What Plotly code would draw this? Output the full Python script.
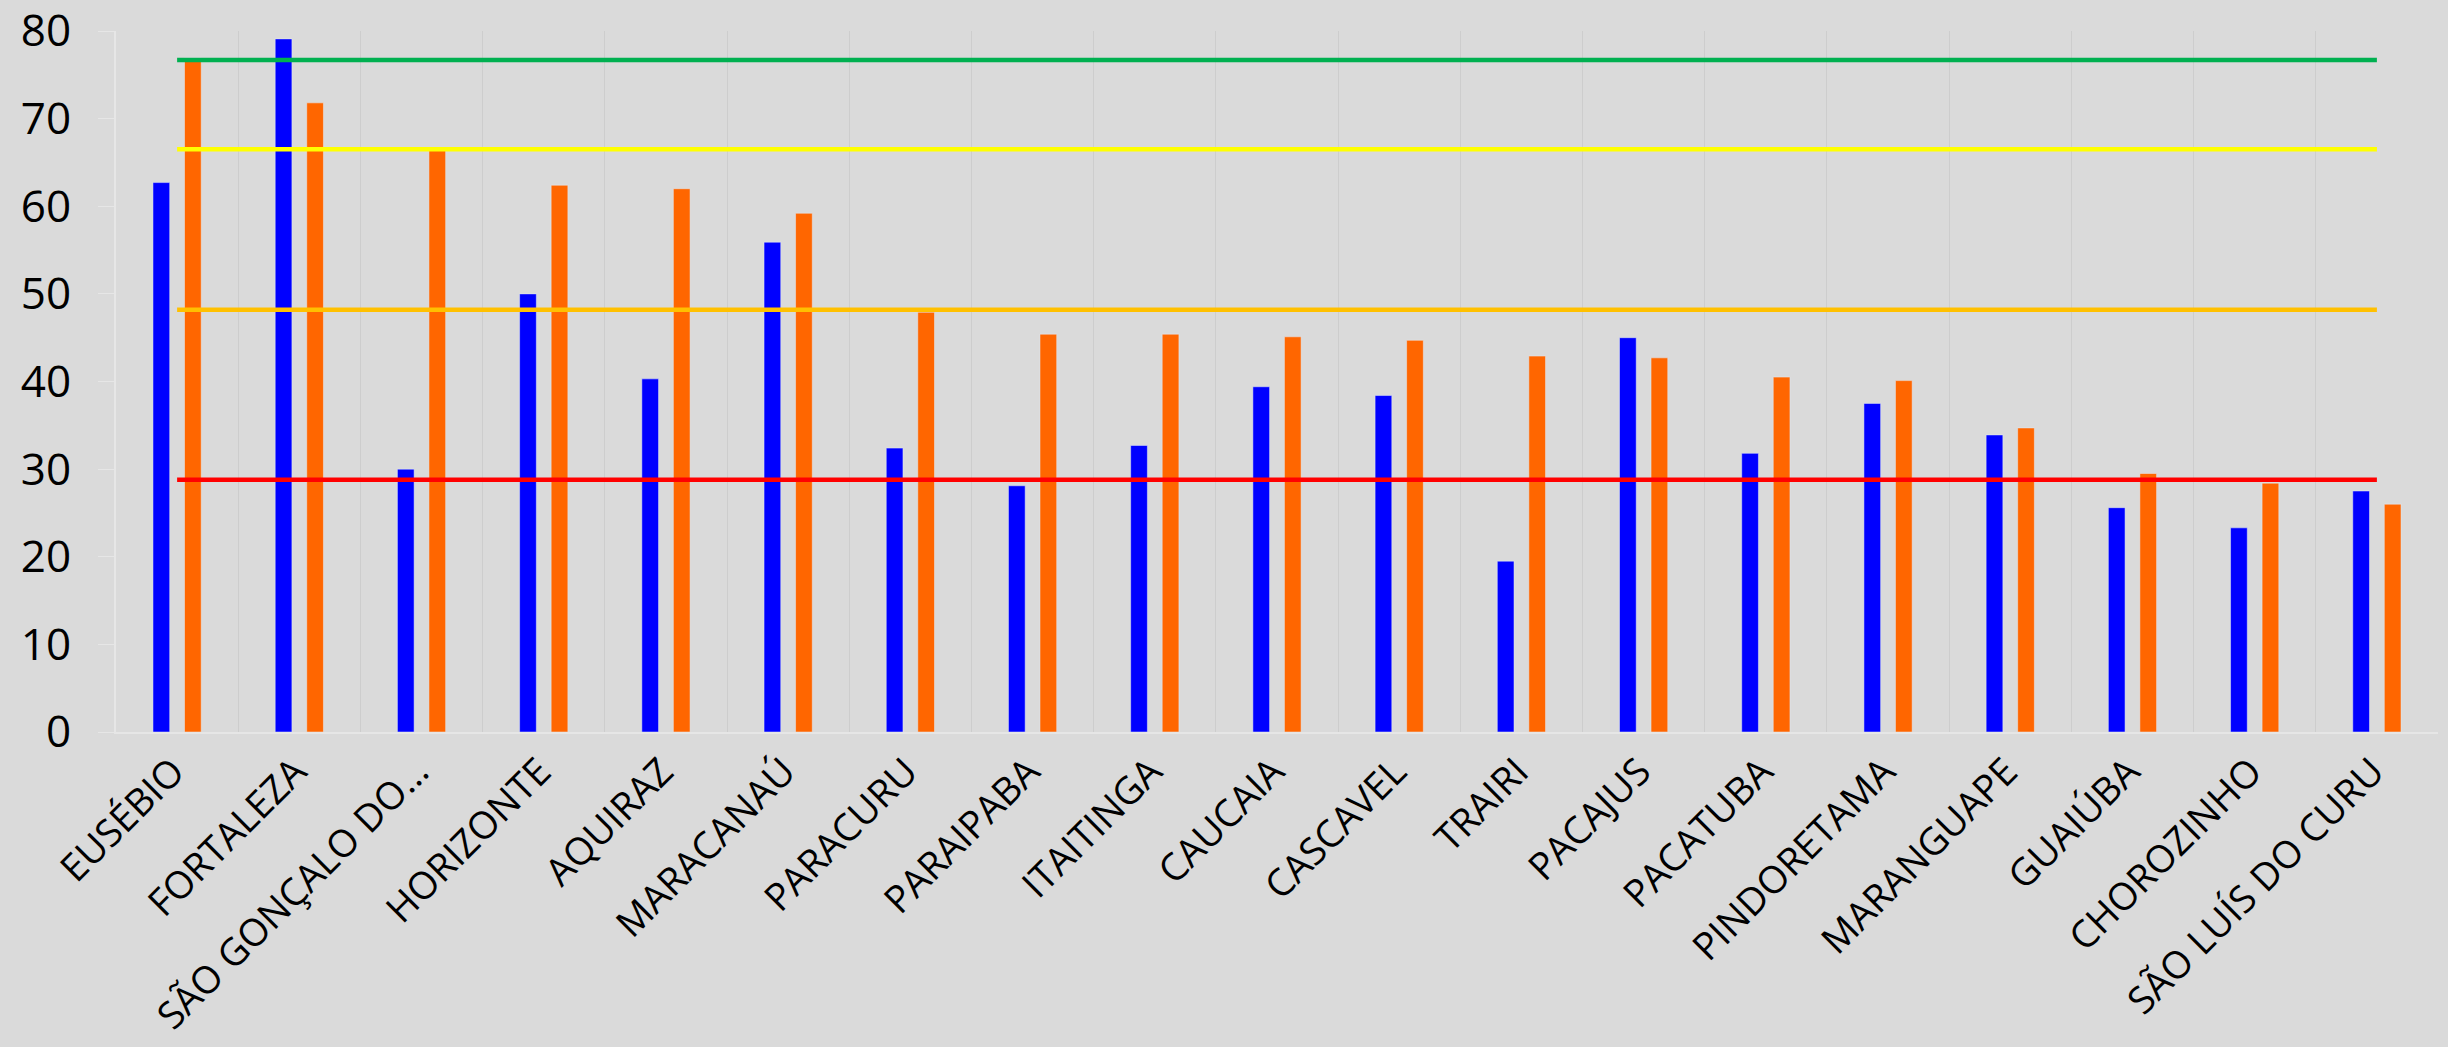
import plotly.graph_objects as go

municipios = [
    "EUSÉBIO", "FORTALEZA", "SÃO GONÇALO DO…", "HORIZONTE", "AQUIRAZ",
    "MARACANAÚ", "PARACURU", "PARAIPABA", "ITAITINGA", "CAUCAIA",
    "CASCAVEL", "TRAIRI", "PACAJUS", "PACATUBA", "PINDORETAMA",
    "MARANGUAPE", "GUAIÚBA", "CHOROZINHO", "SÃO LUÍS DO CURU",
]
serie_azul = [62.7, 79.1, 30.0, 50.0, 40.3, 55.9, 32.4, 28.1, 32.7, 39.4,
              38.4, 19.5, 45.0, 31.8, 37.5, 33.9, 25.6, 23.3, 27.5]
serie_laranja = [76.9, 71.8, 66.4, 62.4, 62.0, 59.2, 47.9, 45.4, 45.4, 45.1,
                 44.7, 42.9, 42.7, 40.5, 40.1, 34.7, 29.5, 28.4, 26.0]

# reference levels drawn as flat lines across all categories
nivel_verde = 76.7
nivel_amarelo = 66.5
nivel_ouro = 48.2
nivel_vermelho = 28.8

y_ticks = [0, 10, 20, 30, 40, 50, 60, 70, 80]

fig = go.Figure()
fig.add_trace(go.Bar(x=municipios, y=serie_azul, marker={"color": "#0000FF"}, name="azul"))
fig.add_trace(go.Bar(x=municipios, y=serie_laranja, marker={"color": "#FF6600"}, name="laranja"))

for valor, cor in [
    (nivel_verde, "#00B050"),
    (nivel_amarelo, "#FFFF00"),
    (nivel_ouro, "#FFC000"),
    (nivel_vermelho, "#FF0000"),
]:
    fig.add_trace(
        go.Scatter(
            x=municipios,
            y=[valor] * len(municipios),
            mode="lines",
            line={"color": cor, "width": 4.5},
            hoverinfo="skip",
        )
    )

fig.update_layout(
    width=2448,
    height=1047,
    barmode="group",
    bargap=0.484,
    bargroupgap=0.47,
    showlegend=False,
    paper_bgcolor="#dadada",
    plot_bgcolor="rgba(0,0,0,0)",
    margin={"l": 116, "r": 10, "t": 31, "b": 315},
    font={"family": "Open Sans", "color": "#000000"},
)
fig.update_xaxes(
    tickangle=-45,
    tickfont={"size": 38},
    tickson="boundaries",
    showgrid=True,
    gridcolor="#cdcdcd",
    gridwidth=1,
    ticks="",
    showline=True,
    linecolor="#e6e6e6",
    linewidth=2,
    ticklabelstandoff=0,
    ticklabelshift=-4,
    ticklabeloverflow="allow",
    automargin=False,
)
fig.update_yaxes(
    range=[0, 80],
    tickvals=y_ticks,
    tickfont={"size": 44},
    showgrid=False,
    zeroline=False,
    ticks="outside",
    ticklen=16,
    tickcolor="#e6e6e6",
    showline=True,
    linecolor="#e6e6e6",
    linewidth=2,
    ticklabelstandoff=18,
    ticklabeloverflow="allow",
    automargin=False,
)

# drop the default body margin so the figure fills the window from the corner
fig.write_html(
    "out.html",
    config={"displayModeBar": False},
    post_script="document.body.style.margin='0';document.body.style.background='#dadada';",
)
